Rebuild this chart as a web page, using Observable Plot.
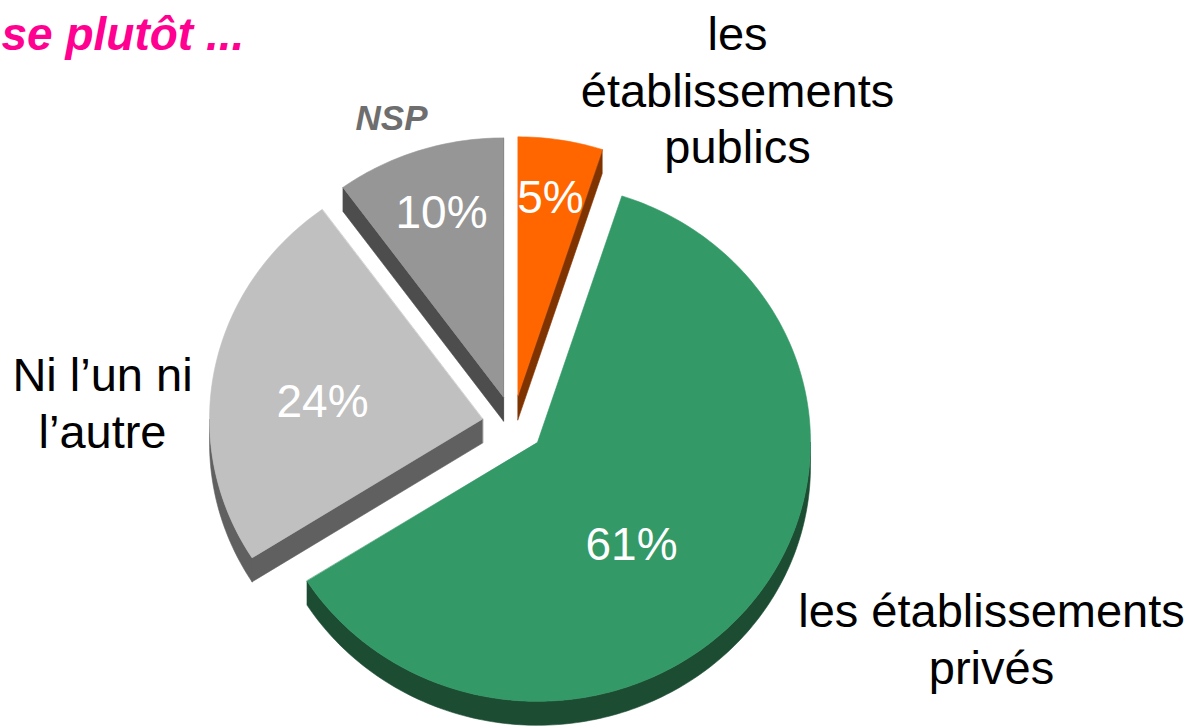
<!DOCTYPE html>
<html>
<head>
<meta charset="utf-8">
<script src="https://cdn.jsdelivr.net/npm/d3@7"></script>
<script src="https://cdn.jsdelivr.net/npm/@observablehq/plot@0.6"></script>
<style>
  html, body { margin: 0; padding: 0; background: #fff; overflow: hidden; }
  #chart svg { display: block; }
</style>
</head>
<body>
<div id="chart"></div>
<script>
// ---- data ----
const categories = ["les établissements publics", "les établissements privés", "Ni l’un ni l’autre", "NSP"];
const values = [5, 61, 24, 10];
const categoryLabels = ["les\nétablissements\npublics", "les établissements\nprivés", "Ni l’un ni\nl’autre", "NSP"];
const percentLabels = ["5%", "61%", "24%", "10%"];
const topColors = ["#FF6600", "#339966", "#C0C0C0", "#969696"];
const sideColors = ["#7F3300", "#1C4D33", "#606060", "#4D4D4D"];
const titleText = "se plutôt ...";

// ---- layout ----
const W = 1192, H = 726;
const PIE = {cx: 512.5, cy: 424, rx: 273, ry: 259, ex: 31, ey: 29, depth: 24};
const outerLabelPos = [[737, 88], [991, 637], [102, 401], [391, 118]];
const innerLabelPos = [[550, 198], [631, 545], [322, 402], [441, 213]];

// ---- geometry from the data ----
const arcs = d3.pie().sort(null).startAngle(0).endAngle(2 * Math.PI)(values);
const slices = arcs.map((a, i) => {
  const mid = (a.startAngle + a.endAngle) / 2;
  const apex = [PIE.cx + PIE.ex * Math.sin(mid), PIE.cy - PIE.ey * Math.cos(mid)];
  return {i, a0: a.startAngle, a1: a.endAngle, mid, apex};
});
const P = (s, t, dz = 0) => [s.apex[0] + PIE.rx * Math.sin(t), s.apex[1] - PIE.ry * Math.cos(t) + dz];
const arcPts = (s, t0, t1, dz = 0) => {
  const n = Math.max(2, Math.ceil((t1 - t0) / (Math.PI / 180)));
  return d3.range(n + 1).map(k => P(s, t0 + (t1 - t0) * k / n, dz));
};

const rows = [];
function poly(id, pts, fill, layer, order) {
  pts.forEach(([x, y]) => rows.push({id, x, y, fill, layer, order}));
}
const D = PIE.depth;
const order = [...slices].sort((p, q) => (-Math.cos(p.mid)) - (-Math.cos(q.mid)));
order.forEach((s, k) => {
  const side = sideColors[s.i], top = topColors[s.i];
  const A = s.apex, Ad = [A[0], A[1] + D];
  // radial wall at start angle (visible if its normal points toward viewer)
  if (Math.cos(s.a0 - Math.PI / 2) < 0) {
    const p = P(s, s.a0), pd = P(s, s.a0, D);
    poly(`w0-${s.i}`, [A, p, pd, Ad], side, 0, k);
  }
  if (Math.cos(s.a1 + Math.PI / 2) < 0) {
    const p = P(s, s.a1), pd = P(s, s.a1, D);
    poly(`w1-${s.i}`, [A, p, pd, Ad], side, 0, k);
  }
  // outer curved wall (front half)
  const t0 = Math.max(s.a0, Math.PI / 2), t1 = Math.min(s.a1, 3 * Math.PI / 2);
  if (t1 > t0) {
    poly(`wo-${s.i}`, [...arcPts(s, t0, t1), ...arcPts(s, t0, t1, D).reverse()], side, 0, k);
  }
  // top face
  poly(`top-${s.i}`, [A, ...arcPts(s, s.a0, s.a1)], top, 1, k);
});

const marks = [];
order.forEach((s, k) => {
  [0, 1].forEach(layer => {
    const d = rows.filter(r => r.order === k && r.layer === layer);
    if (d.length) marks.push(Plot.line(d, {
      x: "x", y: "y", z: "id", fill: "fill", stroke: "fill", strokeWidth: 0.6,
      curve: "linear-closed"
    }));
  });
});

const textData = slices.map(s => ({
  i: s.i,
  category: categories[s.i],
  label: categoryLabels[s.i],
  pct: percentLabels[s.i],
  ox: outerLabelPos[s.i][0], oy: outerLabelPos[s.i][1],
  ix: innerLabelPos[s.i][0], iy: innerLabelPos[s.i][1]
}));

marks.push(Plot.text(textData, {
  x: "ix", y: "iy", text: "pct", fill: "white", fontSize: 46,
  fontFamily: "Liberation Sans, Arial, sans-serif", textAnchor: "middle", lineAnchor: "middle"
}));
marks.push(Plot.text(textData.filter(d => d.category !== "NSP"), {
  x: "ox", y: "oy", text: "label", fill: "black", fontSize: 47, lineHeight: 1.2,
  fontFamily: "Liberation Sans, Arial, sans-serif", textAnchor: "middle", lineAnchor: "middle"
}));
marks.push(Plot.text(textData.filter(d => d.category === "NSP"), {
  x: "ox", y: "oy", text: "label", fill: "#6E6E6E", fontSize: 35, fontWeight: "bold", fontStyle: "italic",
  fontFamily: "Liberation Sans, Arial, sans-serif", textAnchor: "middle", lineAnchor: "middle"
}));
marks.push(Plot.text([titleText], {
  x: () => 1, y: () => 35, text: d => d, fill: "#FF0090", fontSize: 46, fontWeight: "bold", fontStyle: "italic",
  fontFamily: "Liberation Sans, Arial, sans-serif", textAnchor: "start", lineAnchor: "middle"
}));

const chart = Plot.plot({
  width: W, height: H, margin: 0,
  x: {domain: [0, W], range: [0, W], axis: null},
  y: {domain: [0, H], range: [0, H], axis: null},
  color: {type: "identity"},
  style: {background: "white", overflow: "visible"},
  marks
});
document.getElementById("chart").appendChild(chart);
</script>
</body>
</html>
